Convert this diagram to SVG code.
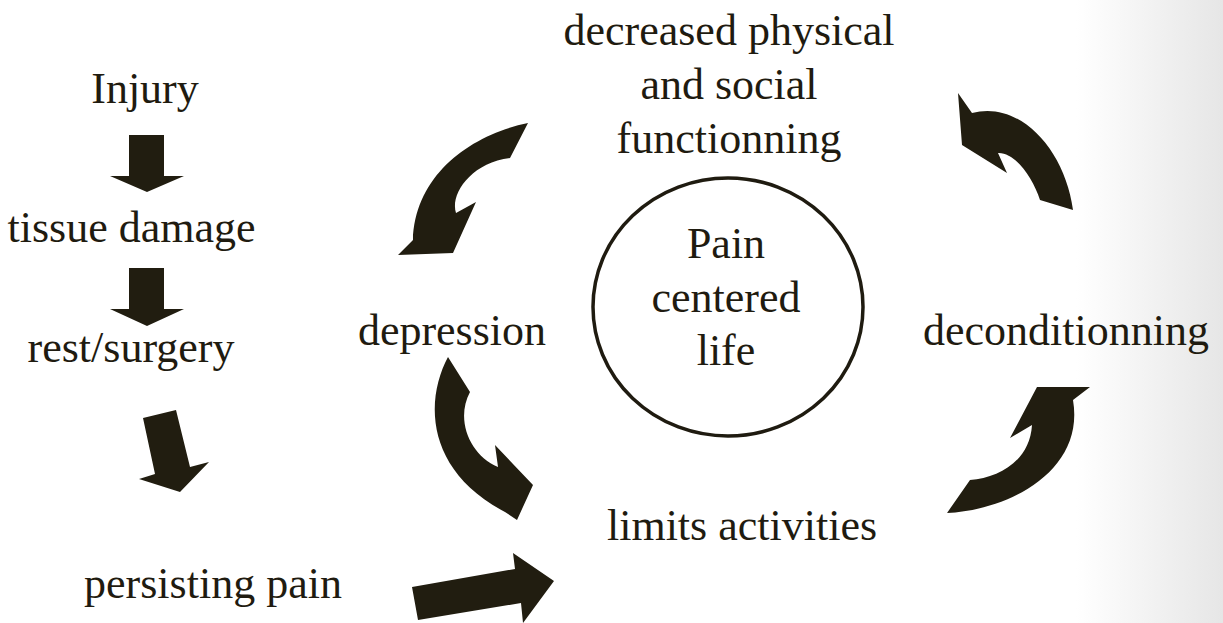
<svg xmlns="http://www.w3.org/2000/svg" width="1223" height="623" viewBox="0 0 1223 623">
<defs>
<linearGradient id="bg" x1="0" y1="0" x2="1" y2="0">
<stop offset="0" stop-color="#ffffff"/>
<stop offset="0.88" stop-color="#ffffff"/>
<stop offset="1" stop-color="#e6e6e6"/>
</linearGradient>
<style>
text{font-family:"Liberation Serif","DejaVu Serif",serif;font-size:44px;fill:#1f1b10;text-anchor:middle}
.a{fill:#211d10;stroke:none}
</style>
</defs>
<rect width="1223" height="623" fill="url(#bg)"/>
<g id="injury"><text x="145" y="103">Injury</text></g>
<g id="tissue"><text x="131.5" y="242">tissue damage</text></g>
<g id="rest"><text x="131" y="362">rest/surgery</text></g>
<g id="persisting"><text x="213" y="598">persisting pain</text></g>
<g id="decreased"><text x="729" y="45">decreased physical</text><text x="729" y="99">and social</text><text x="729" y="153">functionning</text></g>
<g id="depression"><text x="452" y="345">depression</text></g>
<g id="deconditionning"><text x="1066" y="345">deconditionning</text></g>
<g id="limits"><text x="742" y="540">limits activities</text></g>
<g id="center"><ellipse cx="728" cy="307" rx="135" ry="129" fill="none" stroke="#1f1b10" stroke-width="3.5"/><text x="726" y="258">Pain</text><text x="726" y="312">centered</text><text x="726" y="365">life</text></g>
<g id="connectors">
<path class="a" d="M129,135 L164,135 L164,176 L184,176 L147,192 L110,176 L129,176 Z"/>
<path class="a" d="M129,268 L164,268 L164,309 L184,309 L147,326 L110,309 L129,309 Z"/>
<path class="a" d="M143,418 L176,410 L190,467 L209,462 L180,492 L139,479 L155,474 Z"/>
<path class="a" d="M412,587 L515,569 L513,553 L554,581 L523,623 L521,603 L418,620 Z"/>
<path class="a" d="M528,123 C470,135 415,175 413,240 L398,255 L453,253 L476,202 L456,213 C450,195 470,163 510,158 Z"/>
<path class="a" d="M958,93 L972,113 C1020,100 1065,150 1073,210 L1040,200 C1033,178 1015,152 998,153 L1007,173 L962,145 Z"/>
<path class="a" d="M448,357 C425,400 425,470 505,512 L517,520 L533,485 L495,445 L498,467 C470,455 455,420 470,392 Z"/>
<path class="a" d="M947,513 C1010,510 1085,470 1073,400 L1090,387 L1037,387 L1010,438 L1032,425 C1030,460 1000,478 970,480 Z"/>
</g>
</svg>
